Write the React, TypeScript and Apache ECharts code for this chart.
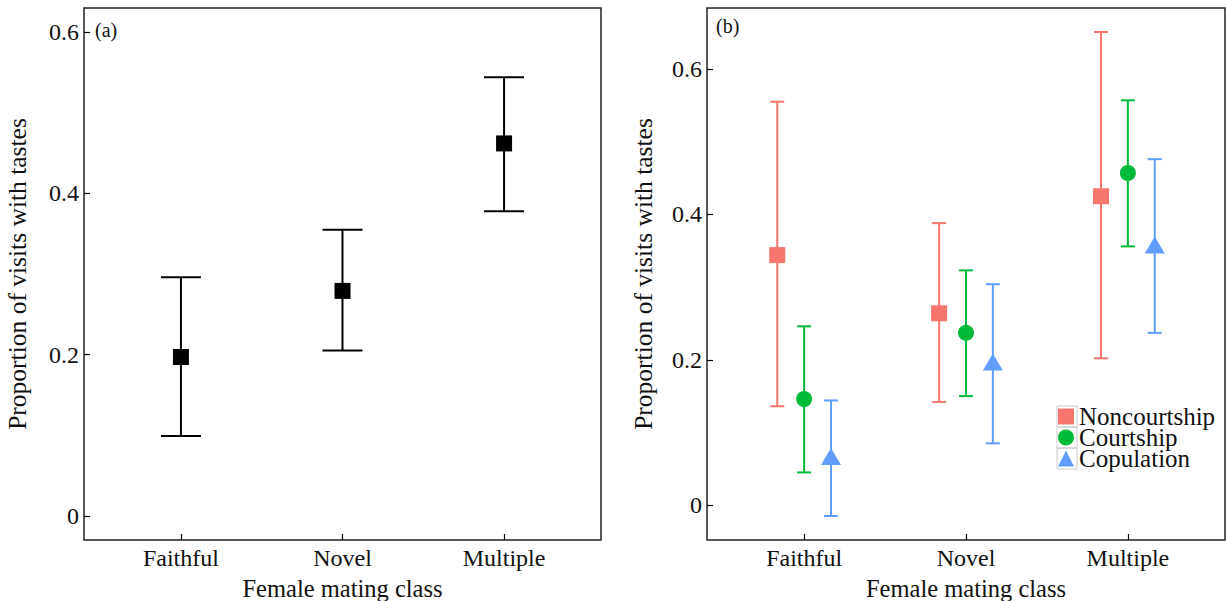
import React, { useEffect, useRef } from "react";
import * as echarts from "echarts";

const categories = ["Faithful", "Novel", "Multiple"];
const yTicks = [0, 0.2, 0.4, 0.6];

// Panel (a): all visits
const overallMean = [0.197, 0.279, 0.462];
const overallLower = [0.099, 0.205, 0.378];
const overallUpper = [0.296, 0.355, 0.544];

// Panel (b): by context
const groupNames = ["Noncourtship", "Courtship", "Copulation"];
const noncourtMean = [0.344, 0.264, 0.425];
const noncourtLower = [0.136, 0.142, 0.202];
const noncourtUpper = [0.555, 0.388, 0.651];
const courtMean = [0.146, 0.237, 0.457];
const courtLower = [0.045, 0.15, 0.356];
const courtUpper = [0.246, 0.323, 0.557];
const copMean = [0.067, 0.197, 0.358];
const copLower = [-0.015, 0.085, 0.237];
const copUpper = [0.144, 0.304, 0.476];

const FONT = "Liberation Serif";

export default function App() {
  const ref = useRef<HTMLDivElement>(null);
  useEffect(() => {
    if (!ref.current) return;
    const chart = echarts.init(ref.current, null, { renderer: "svg" });

    const colors = ["#F8766D", "#00BA38", "#619CFF"];
    const symbols = ["rect", "circle", "triangle"];
    const symbolSizes: any[] = [16, 16, [20, 17]];
    const means = [noncourtMean, courtMean, copMean];
    const lowers = [noncourtLower, courtLower, copLower];
    const uppers = [noncourtUpper, courtUpper, copUpper];
    const dodge = [-0.166, 0, 0.166];

    const errRender = (color: string, hw: number) => (params: any, api: any) => {
      const x = api.value(0);
      const lo = api.value(1);
      const hi = api.value(2);
      const t = api.coord([x, hi]);
      const b = api.coord([x, lo]);
      const style = { stroke: color, lineWidth: 2 };
      return {
        type: "group",
        children: [
          { type: "line", shape: { x1: t[0], y1: t[1], x2: b[0], y2: b[1] }, style },
          { type: "line", shape: { x1: t[0] - hw, y1: t[1], x2: t[0] + hw, y2: t[1] }, style },
          { type: "line", shape: { x1: b[0] - hw, y1: b[1], x2: b[0] + hw, y2: b[1] }, style },
        ],
      };
    };

    const xAxisBase = (gridIndex: number) => ({
      type: "value",
      gridIndex,
      position: "bottom",
      min: 0.4,
      max: 3.6,
      splitLine: { show: false },
      axisLine: { show: false, onZero: false },
      axisTick: { show: true, inside: true, length: 6, customValues: [1, 2, 3], lineStyle: { color: "#000", width: 1.2 } },
      axisLabel: {
        customValues: [1, 2, 3],
        formatter: (v: number) => categories[Math.round(v) - 1] || "",
        fontFamily: FONT,
        fontSize: 24,
        color: "#111",
        margin: 6,
      },
      name: "Female mating class",
      nameLocation: "middle",
      nameGap: 36,
      nameTextStyle: { fontFamily: FONT, fontSize: 24.5, color: "#111" },
    });

    const yAxisBase = (gridIndex: number, min: number, max: number, gap: number) => ({
      type: "value",
      gridIndex,
      position: "left",
      min,
      max,
      splitLine: { show: false },
      axisLine: { show: false, onZero: false },
      axisTick: { show: true, inside: true, length: 6, customValues: yTicks, lineStyle: { color: "#000", width: 1.2 } },
      axisLabel: {
        customValues: yTicks,
        formatter: (v: number) => (Math.abs(v) < 1e-9 ? "0" : String(Math.round(v * 10) / 10)),
        fontFamily: FONT,
        fontSize: 24,
        color: "#111",
        margin: 5,
      },
      name: "Proportion of visits with tastes",
      nameLocation: "middle",
      nameGap: gap,
      nameTextStyle: { fontFamily: FONT, fontSize: 25.5, color: "#111" },
    });

    const series: any[] = [];
    series.push({
      type: "custom",
      xAxisIndex: 0,
      yAxisIndex: 0,
      renderItem: errRender("#000", 20),
      encode: { x: 0, y: [1, 2] },
      data: categories.map((_, i) => [i + 1, overallLower[i], overallUpper[i]]),
      silent: true,
      z: 2,
    });
    series.push({
      type: "scatter",
      xAxisIndex: 0,
      yAxisIndex: 0,
      symbol: "rect",
      symbolSize: 16,
      itemStyle: { color: "#000", opacity: 1 },
      data: categories.map((_, i) => [i + 1, overallMean[i]]),
      z: 3,
    });
    groupNames.forEach((g, k) => {
      series.push({
        type: "custom",
        name: g + " CI",
        xAxisIndex: 1,
        yAxisIndex: 1,
        renderItem: errRender(colors[k], 7),
        encode: { x: 0, y: [1, 2] },
        data: categories.map((_, i) => [i + 1 + dodge[k], lowers[k][i], uppers[k][i]]),
        silent: true,
        z: 2,
      });
      series.push({
        type: "scatter",
        name: g,
        xAxisIndex: 1,
        yAxisIndex: 1,
        symbol: symbols[k],
        symbolSize: symbolSizes[k],
        itemStyle: { color: colors[k], opacity: 1 },
        data: categories.map((_, i) => [i + 1 + dodge[k], means[k][i]]),
        z: 3,
      });
    });

    const gridCommon = {
      top: 8,
      height: 532,
      show: true,
      borderColor: "#222",
      borderWidth: 1.5,
      backgroundColor: "transparent",
      containLabel: false,
      outerBoundsMode: "none",
    };

    chart.setOption({
      animation: false,
      backgroundColor: "#fff",
      grid: [
        { ...gridCommon, left: 84, width: 517 },
        { ...gridCommon, left: 707, width: 518 },
      ],
      xAxis: [xAxisBase(0), xAxisBase(1)],
      yAxis: [yAxisBase(0, -0.03, 0.63, 54), yAxisBase(1, -0.048, 0.684, 51)],
      legend: {
        data: groupNames.map((g, k) => ({ name: g, icon: symbols[k] })),
        orient: "vertical",
        left: 1058,
        top: 404,
        itemWidth: 16,
        itemHeight: 16,
        itemGap: -4,
        padding: 0,
        textStyle: { fontFamily: FONT, fontSize: 25, color: "#111", lineHeight: 21, padding: [0, 0, 0, 0] },
        selectedMode: false,
      },
      graphic: [
        { type: "text", left: 95, top: 20, style: { text: "(a)", fontFamily: FONT, fontSize: 20, fill: "#111" } },
        { type: "text", left: 716, top: 16, style: { text: "(b)", fontFamily: FONT, fontSize: 20, fill: "#111" } },
        { type: "rect", shape: { x: 1057, y: 406, width: 20, height: 21 }, style: { fill: "none", stroke: "#ccc", lineWidth: 1 }, z: -1 },
        { type: "rect", shape: { x: 1057, y: 427, width: 20, height: 21 }, style: { fill: "none", stroke: "#ccc", lineWidth: 1 }, z: -1 },
        { type: "rect", shape: { x: 1057, y: 448, width: 20, height: 21 }, style: { fill: "none", stroke: "#ccc", lineWidth: 1 }, z: -1 },
      ],
      series,
    });
    return () => chart.dispose();
  }, []);
  return <div ref={ref} style={{ position: "absolute", left: 0, top: 0, width: 1226, height: 601 }} />;
}
